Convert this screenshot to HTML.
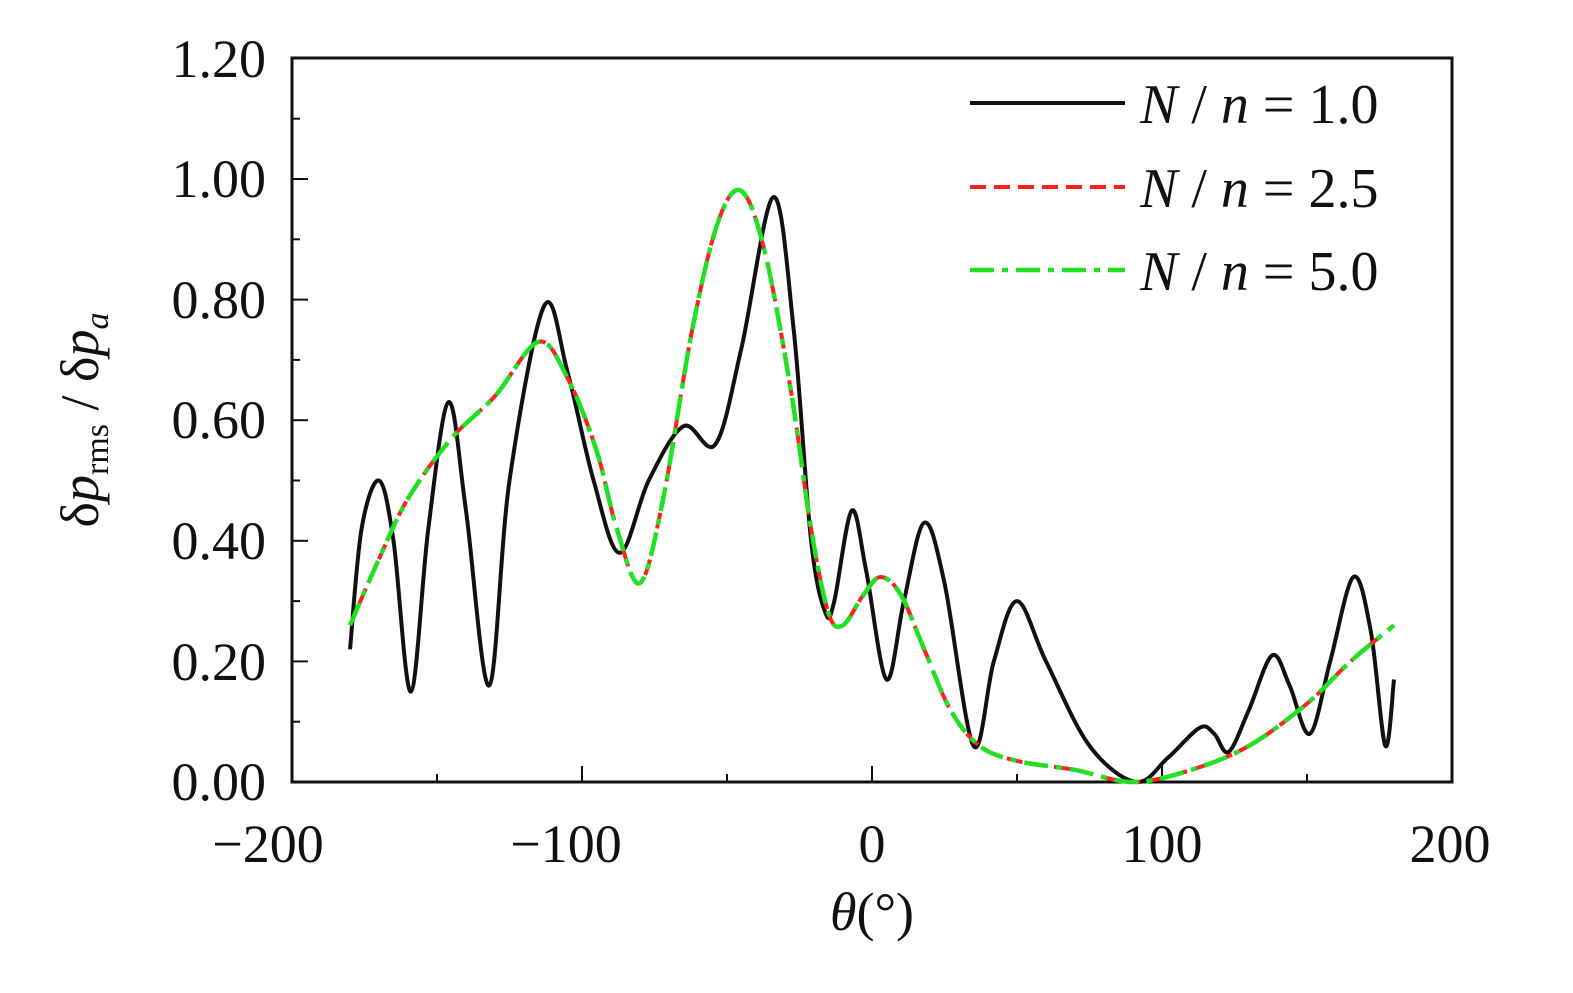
<!DOCTYPE html>
<html><head><meta charset="utf-8"><style>
html,body{margin:0;padding:0;background:#fff;}
text{font-family:"Liberation Serif","Times New Roman",Times,serif;fill:#111;}
</style></head><body>
<svg id="s" width="1573" height="988" viewBox="0 0 1573 988" xmlns="http://www.w3.org/2000/svg">
<rect width="1573" height="988" fill="#fff"/>
<rect x="292" y="58" width="1160" height="724" fill="none" stroke="#111" stroke-width="3"/>
<g id="ticks" stroke="#111" stroke-width="2"></g>
<g font-size="54" text-anchor="end" font-family="Liberation Serif, Times New Roman, serif">
<text x="266" y="800">0.00</text>
<text x="266" y="680">0.20</text>
<text x="266" y="559">0.40</text>
<text x="266" y="438">0.60</text>
<text x="266" y="318">0.80</text>
<text x="266" y="197">1.00</text>
<text x="266" y="77">1.20</text>
</g>
<g font-size="54" text-anchor="middle" font-family="Liberation Serif, Times New Roman, serif">
<text x="268" y="862">−200</text>
<text x="566" y="862">−100</text>
<text x="872" y="862">0</text>
<text x="1162" y="862">100</text>
<text x="1450" y="862">200</text>
</g>
<text x="872" y="930" font-size="54" text-anchor="middle" font-family="Liberation Serif, Times New Roman, serif"><tspan font-style="italic">θ</tspan>(°)</text>
<text transform="translate(98,420) rotate(-90)" font-size="54" text-anchor="middle" font-family="Liberation Serif, Times New Roman, serif">δ<tspan font-style="italic">p</tspan><tspan font-size="34" dy="10">rms</tspan><tspan dy="-10"> / δ</tspan><tspan font-style="italic">p</tspan><tspan font-size="34" dy="10" font-style="italic">a</tspan></text>
<path id="b" fill="none" stroke="#111" stroke-width="4"/>
<path id="r" fill="none" stroke="#ff2020" stroke-width="4" stroke-dasharray="16,8"/>
<path id="g" fill="none" stroke="#22e022" stroke-width="4.5" stroke-dasharray="24,8,6,8"/>
<line x1="970" y1="103" x2="1125" y2="103" stroke="#111" stroke-width="4"/>
<line x1="970" y1="187" x2="1125" y2="187" stroke="#ff2020" stroke-width="4" stroke-dasharray="16,8"/>
<line x1="970" y1="270" x2="1125" y2="270" stroke="#22e022" stroke-width="4.5" stroke-dasharray="24,8,6,8"/>
<g font-size="56" font-family="Liberation Serif, Times New Roman, serif">
<text x="1140" y="123"><tspan font-style="italic">N</tspan> / <tspan font-style="italic">n</tspan> = 1.0</text>
<text x="1140" y="207"><tspan font-style="italic">N</tspan> / <tspan font-style="italic">n</tspan> = 2.5</text>
<text x="1140" y="290"><tspan font-style="italic">N</tspan> / <tspan font-style="italic">n</tspan> = 5.0</text>
</g>
</svg>
<script>
function X(t){return 872+t*2.9;}function Y(v){return 782-v*603;}
function path(pts){var p=pts.map(function(a){return [X(a[0]),Y(a[1])];});
var d="M"+p[0][0]+","+p[0][1];
for(var i=0;i<p.length-1;i++){var p0=p[i-1]||p[i],p1=p[i],p2=p[i+1],p3=p[i+2]||p2;
var c1=[p1[0]+(p2[0]-p0[0])/6,p1[1]+(p2[1]-p0[1])/6],c2=[p2[0]-(p3[0]-p1[0])/6,p2[1]-(p3[1]-p1[1])/6];
d+=" C"+c1+" "+c2+" "+p2;}return d;}
var black=[[-180,0.22],[-176,0.42],[-170,0.5],[-165,0.4],[-159,0.15],[-153,0.42],[-146,0.63],[-140,0.45],[-132,0.16],[-125,0.5],[-113,0.79],[-105,0.68],[-96,0.5],[-87,0.38],[-77,0.5],[-65,0.59],[-54,0.56],[-45,0.72],[-34,0.97],[-27,0.75],[-21,0.4],[-16,0.28],[-13,0.3],[-7,0.45],[-2,0.35],[5,0.17],[11,0.3],[18,0.43],[25,0.33],[35,0.06],[42,0.2],[50,0.3],[60,0.2],[75,0.06],[91,0.0],[102,0.04],[113,0.09],[118,0.08],[123,0.05],[130,0.12],[138,0.21],[144,0.16],[151,0.08],[158,0.2],[166,0.34],[172,0.25],[177,0.06],[180,0.17]];
var green=[[-180,0.26],[-170,0.37],[-160,0.47],[-145,0.57],[-130,0.64],[-115,0.73],[-105,0.67],[-95,0.55],[-88,0.42],[-80,0.33],[-72,0.47],[-62,0.75],[-53,0.93],[-45,0.98],[-37,0.88],[-28,0.65],[-21,0.42],[-15,0.28],[-10,0.26],[-3,0.31],[3,0.34],[10,0.31],[18,0.22],[27,0.12],[37,0.06],[50,0.035],[70,0.02],[90,0.0],[110,0.02],[130,0.06],[150,0.13],[165,0.2],[180,0.26]];
document.getElementById('b').setAttribute('d',path(black));
document.getElementById('r').setAttribute('d',path(green));
document.getElementById('g').setAttribute('d',path(green));
var t="";for(var v=0.1;v<1.2;v+=0.1){var y=Y(v);t+='<line x1="292" y1="'+y+'" x2="'+(Math.round(v*10)%2?300:308)+'" y2="'+y+'"/>';}
for(var a=-150;a<200;a+=50){var x=X(a);t+='<line x1="'+x+'" y1="782" x2="'+x+'" y2="'+(a%100?774:766)+'"/>';}
document.getElementById('ticks').innerHTML=t;
</script>
</body></html>
